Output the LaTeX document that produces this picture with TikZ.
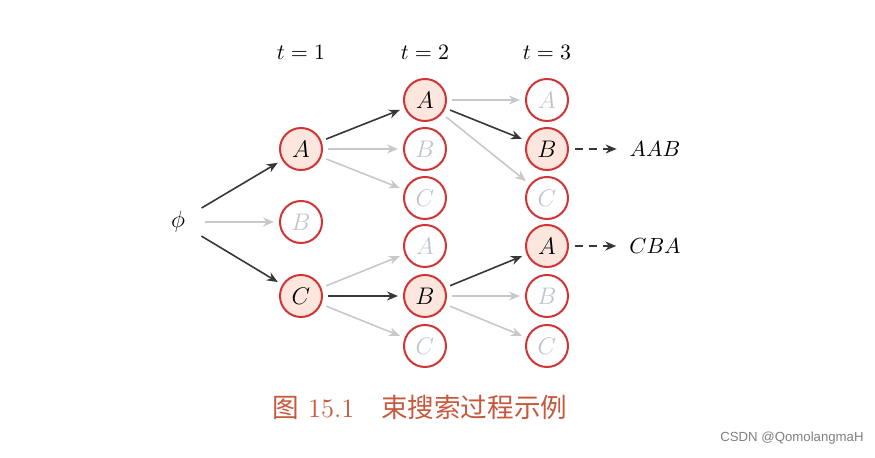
\documentclass[tikz,border=0pt]{standalone}
\usepackage{fontspec}
\newfontfamily\cjk{Noto Sans CJK SC}
\setsansfont{Liberation Sans}
\usetikzlibrary{arrows.meta}
\definecolor{beamred}{RGB}{208,52,52}
\definecolor{beamfill}{RGB}{252,230,221}
\definecolor{lightline}{RGB}{200,200,200}
\definecolor{greytext}{RGB}{190,196,206}
\definecolor{darkline}{RGB}{55,55,55}
\definecolor{captionred}{RGB}{200,88,60}
\tikzset{
  state/.style={circle, draw=beamred, line width=1pt, minimum size=21pt, inner sep=0pt, font=\fontsize{11.5}{13}\selectfont},
  kept/.style={state, fill=beamfill},
  pruned/.style={state, fill=white, text=greytext},
  best/.style={draw=darkline, line width=0.8pt, -{Stealth[length=5.5pt,width=4.5pt]}, shorten <=2.5pt, shorten >=2.5pt},
  other/.style={draw=lightline, line width=0.8pt, -{Stealth[length=5.5pt,width=4.5pt]}, shorten <=2.5pt, shorten >=2.5pt},
  final/.style={draw=darkline, line width=0.8pt, dashed, dash pattern=on 4pt off 3pt, -{Stealth[length=5.5pt,width=4.5pt]}, shorten >=3pt, shorten <=3pt},
}
\begin{document}
\begin{tikzpicture}[x=0.5pt, y=-0.5pt]
        \useasboundingbox (0,0) rectangle (875,458);
        % time steps
        \node[font=\fontsize{10.5}{12}\selectfont] (t1) at (301,52) {$t=1$};
        \node[font=\fontsize{10.5}{12}\selectfont] (t2) at (425,52) {$t=2$};
        \node[font=\fontsize{10.5}{12}\selectfont] (t3) at (547,52) {$t=3$};
        % start
        \node[circle, minimum size=22pt, inner sep=0pt, font=\fontsize{11.5}{13}\selectfont] (phi) at (178,222) {$\phi$};
        % t = 1
        \node[kept] (a1) at (301,149) {$A$};
        \node[pruned] (b1) at (301,222) {$B$};
        \node[kept] (c1) at (301,296) {$C$};
        % t = 2
        \node[kept] (aa2) at (425,100) {$A$};
        \node[pruned] (ab2) at (425,149) {$B$};
        \node[pruned] (ac2) at (425,198) {$C$};
        \node[pruned] (ca2) at (425,246) {$A$};
        \node[kept] (cb2) at (425,296) {$B$};
        \node[pruned] (cc2) at (425,346) {$C$};
        % t = 3
        \node[pruned] (aaa3) at (547,100) {$A$};
        \node[kept] (aab3) at (547,149) {$B$};
        \node[pruned] (aac3) at (547,198) {$C$};
        \node[kept] (cba3) at (547,246) {$A$};
        \node[pruned] (cbb3) at (547,296) {$B$};
        \node[pruned] (cbc3) at (547,346) {$C$};
        % results
        \node[font=\fontsize{10.5}{12}\selectfont] (aab) at (655,149) {$AAB$};
        \node[font=\fontsize{10.5}{12}\selectfont] (cba) at (655,246) {$CBA$};
        % edges
        \draw[best] (phi) -- (a1);
        \draw[other] (phi) -- (b1);
        \draw[best] (phi) -- (c1);
        \draw[best] (a1) -- (aa2);
        \draw[other] (a1) -- (ab2);
        \draw[other] (a1) -- (ac2);
        \draw[other] (c1) -- (ca2);
        \draw[best] (c1) -- (cb2);
        \draw[other] (c1) -- (cc2);
        \draw[other] (aa2) -- (aaa3);
        \draw[best] (aa2) -- (aab3);
        \draw[other] (aa2) -- (aac3);
        \draw[best] (cb2) -- (cba3);
        \draw[other] (cb2) -- (cbb3);
        \draw[other] (cb2) -- (cbc3);
        \draw[final] (aab3) -- (aab);
        \draw[final] (cba3) -- (cba);
        % caption
        \node[text=captionred, font=\fontsize{13.3}{15}\selectfont] (caption) at (420,407) {{\cjk 图} 15.1\quad{\cjk 束搜索过程示例}};
        \node[text=gray, font=\sffamily\fontsize{6.6}{8}\selectfont] (mark) at (792,438) {CSDN @QomolangmaH};
    \end{tikzpicture}
\end{document}
